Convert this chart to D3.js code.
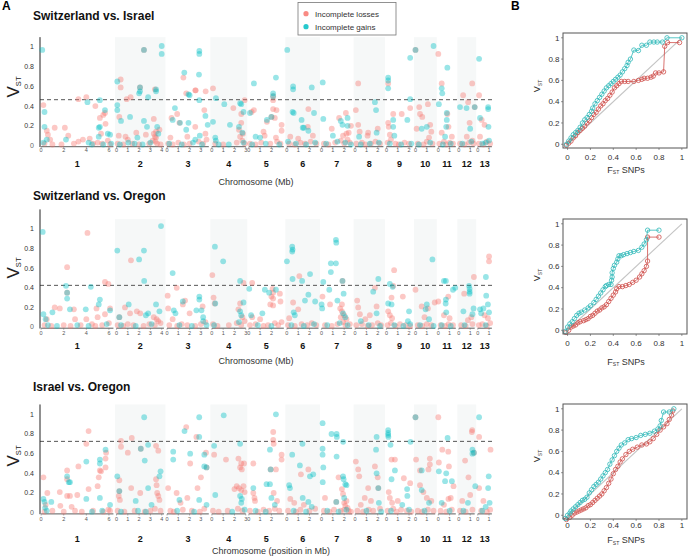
<!DOCTYPE html>
<html><head><meta charset="utf-8">
<script src="https://cdn.jsdelivr.net/npm/d3@7"></script>
<style>
body{margin:0;background:#fff;}
svg text{font-family:"Liberation Sans",Arial,Helvetica,sans-serif;}
</style>
</head><body>
<svg id="chart" width="688" height="557"></svg>
<script>
// ---------------- DATA ----------------
const chromosomes = ["1","2","3","4","5","6","7","8","9","10","11","12","13"];
const chromLengthMb = [6.4,4.2,3.7,3.0,3.1,2.8,2.7,2.5,2.3,1.75,1.55,1.4,1.25];
const chromTickMb = [[0,2,4,6],[0,1,2,3,4],[0,1,2,3],[0,1,2,3],[0,1,2],[0,1,2],[0,1,2],[0,1,2],[0,1,2],[0,1],[0,1],[0,1],[0,1]];
const panelTitles = ["Switzerland vs. Israel","Switzerland vs. Oregon","Israel vs. Oregon"];
const xAxisTitles = ["Chromosome (Mb)","Chromosome (Mb)","Chromosome (position in Mb)"];
const vstThreshold = [0.465,0.425,0.725];
const vstTicks = [0,0.2,0.4,0.6,0.8,1];
const vstTickLabels = ["0","0.2","0.4","0.6","0.8","1"];
const qqTicks = [0,0.2,0.4,0.6,0.8,1];
const qqTickLabels = ["0","0.2","0.4","0.6","0.8","1"];
const legendLabels = ["Incomplete losses","Incomplete gains"];

// [chromosome, position (Mb), V_ST]
const swIsLosses = [
[1,0.2,0.41],[1,0.5,0.15],[1,0.6,0.11],[1,0.8,0.06],[1,1.2,0.18],[1,2.1,0.18],[1,2.4,0.10],[1,3.3,0.04],[1,3.7,0.06],[1,3.3,0.47],[1,4.0,0.49],[1,4.3,0.07],[1,4.8,0.40],[1,5.5,0.31],[1,5.2,0.28],[1,5.65,0.33],[1,5.7,0.22],[1,0.3,0.02],[1,1.0,0.01],[1,1.8,0.01],[1,2.9,0.02],[1,4.6,0.02],[1,5.0,0.03],[1,5.4,0.02],[1,5.9,0.05],[1,6.1,0.01],[1,5.3,0.12],
[2,0.37,0.67],[2,0.37,0.59],[2,0.25,0.29],[2,0.2,0.10],[2,0.9,0.47],[2,1.25,0.49],[2,0.8,0.09],[2,1.0,0.06],[2,2.43,0.97],[2,2.08,0.59],[2,1.75,0.13],[2,2.6,0.11],[2,3.4,0.57],[2,3.3,0.27],[2,3.4,0.09],[2,3.5,0.08],[2,3.45,0.04],[2,3.8,0.16],[2,0.1,0.02],[2,0.6,0.01],[2,1.4,0.02],[2,2.0,0.01],[2,2.9,0.02],[2,3.2,0.05],[2,3.6,0.02],[2,3.9,0.01],[2,3.3,0.12],[2,3.5,0.14],
[3,1.45,0.69],[3,2.54,0.56],[3,3.42,0.55],[3,1.7,0.53],[3,0.4,0.28],[3,0.9,0.32],[3,1.1,0.23],[3,2.5,0.19],[3,3.3,0.36],[3,1.8,0.09],[3,2.5,0.56],[3,0.1,0.02],[3,0.5,0.01],[3,1.0,0.03],[3,1.5,0.01],[3,2.0,0.02],[3,2.8,0.04],[3,3.2,0.02],[3,3.5,0.06],[3,0.3,0.08],[3,3.4,0.12],
[4,0.1,0.58],[4,1.9,0.38],[4,2.9,0.46],[4,2.6,0.32],[4,2.6,0.23],[4,2.4,0.16],[4,2.5,0.09],[4,0.3,0.02],[4,1.0,0.01],[4,2.2,0.03],[4,2.7,0.05],[4,2.9,0.02],[4,2.75,0.12],
[5,0.25,0.34],[5,0.45,0.36],[5,1.6,0.24],[5,2.15,0.46],[5,2.15,0.37],[5,2.45,0.36],[5,2.0,0.29],[5,2.3,0.28],[5,2.9,0.21],[5,2.9,0.15],[5,1.3,0.14],[5,1.4,0.10],[5,2.15,0.50],[5,0.1,0.02],[5,0.6,0.01],[5,1.1,0.03],[5,1.9,0.02],[5,2.5,0.04],[5,2.8,0.02],[5,2.4,0.08],
[6,1.9,0.37],[6,1.85,0.19],[6,0.3,0.09],[6,0.2,0.02],[6,0.7,0.01],[6,1.2,0.03],[6,1.6,0.02],[6,2.1,0.04],[6,2.6,0.02],[6,1.0,0.07],[6,2.3,0.10],
[7,0.9,0.17],[7,1.55,0.28],[7,2.15,0.33],[7,2.4,0.13],[7,2.6,0.20],[7,0.2,0.02],[7,0.6,0.01],[7,1.2,0.03],[7,1.7,0.05],[7,2.0,0.02],[7,2.3,0.06],[7,2.5,0.03],[7,1.9,0.10],[7,2.2,0.12],
[8,0.27,0.63],[8,0.06,0.36],[8,0.27,0.21],[8,0.4,0.14],[8,2.0,0.17],[8,1.15,0.13],[8,1.1,0.10],[8,0.1,0.02],[8,0.6,0.03],[8,0.9,0.01],[8,1.4,0.02],[8,1.8,0.04],[8,2.2,0.02],
[9,0.15,0.63],[9,0.6,0.32],[9,0.15,0.23],[9,0.2,0.19],[9,1.35,0.32],[9,2.1,0.38],[9,0.1,0.03],[9,0.4,0.06],[9,0.8,0.02],[9,1.1,0.01],[9,1.6,0.03],[9,2.0,0.02],[9,0.3,0.11],
[10,0.0,0.97],[10,0.33,0.39],[10,0.4,0.32],[10,0.1,0.17],[10,1.1,0.42],[10,0.6,0.29],[10,1.3,0.21],[10,1.4,0.14],[10,0.2,0.02],[10,0.7,0.01],[10,1.0,0.04],[10,1.5,0.02],[10,1.2,0.08],
[11,0.0,0.93],[11,0.3,0.63],[11,0.8,0.32],[11,0.9,0.19],[11,0.3,0.13],[11,0.1,0.02],[11,0.5,0.04],[11,0.7,0.01],[11,1.0,0.03],[11,1.3,0.02],[11,1.2,0.09],
[12,0.38,0.51],[12,1.18,0.63],[12,0.82,0.44],[12,1.4,0.39],[12,0.95,0.23],[12,0.7,0.09],[12,0.1,0.02],[12,0.5,0.01],[12,0.9,0.03],[12,1.2,0.05],[12,1.3,0.02],
[13,0.12,0.51],[13,0.35,0.26],[13,0.6,0.21],[13,0.2,0.09],[13,0.1,0.02],[13,0.5,0.01],[13,0.8,0.04],[13,1.1,0.02]
];
const swIsGains = [
[1,0.1,0.97],[1,0.3,0.34],[1,0.3,0.19],[1,0.5,0.06],[1,2.2,0.06],[1,4.1,0.44],[1,4.2,0.03],[1,5.2,0.46],[1,5.2,0.19],[1,5.1,0.18],[1,5.65,0.36],[1,5.9,0.12],[1,6.1,0.11],[1,5.1,0.09],[1,0.2,0.03],[1,4.5,0.01],[1,5.5,0.01],[1,6.2,0.02],
[2,0.07,0.65],[2,0.07,0.41],[2,0.07,0.36],[2,0.4,0.25],[2,1.2,0.29],[2,1.05,0.03],[2,2.43,0.97],[2,2.08,0.59],[2,2.08,0.55],[2,2.0,0.53],[2,1.85,0.08],[2,2.43,0.25],[2,3.5,0.57],[2,3.5,0.55],[2,3.6,0.19],[2,2.7,0.19],[2,4.0,1.01],[2,4.0,0.93],[2,2.8,0.49],[2,3.7,0.12],[2,0.3,0.01],[2,1.6,0.02],[2,2.3,0.01],[2,3.0,0.03],
[3,1.53,0.74],[3,2.86,0.96],[3,2.86,0.93],[3,2.83,0.72],[3,1.9,0.52],[3,2.86,0.46],[3,0.7,0.38],[3,0.5,0.26],[3,1.15,0.23],[3,1.9,0.23],[3,3.6,0.21],[3,3.4,0.30],[3,2.9,0.10],[3,1.7,0.16],[3,2.5,0.06],[3,2.0,0.51],[3,0.2,0.02],[3,1.3,0.01],[3,2.3,0.03],[3,3.1,0.01],
[4,0.36,0.48],[4,0.1,0.24],[4,0.3,0.08],[4,0.35,0.05],[4,1.1,0.42],[4,2.5,0.43],[4,2.8,0.34],[4,2.4,0.19],[4,2.7,0.13],[4,1.6,0.21],[4,2.6,0.42],[4,0.6,0.01],[4,1.5,0.01],[4,2.8,0.03],
[5,0.45,0.63],[5,0.1,0.33],[5,1.6,0.26],[5,2.4,0.69],[5,2.15,0.53],[5,2.15,0.50],[5,2.0,0.29],[5,1.0,0.08],[5,0.6,0.09],[5,0.3,0.01],[5,1.5,0.02],[5,2.7,0.01],
[6,0.03,0.97],[6,0.55,0.60],[6,0.55,0.57],[6,0.5,0.34],[6,0.6,0.33],[6,2.2,0.59],[6,1.3,0.26],[6,1.4,0.18],[6,1.5,0.18],[6,2.4,0.33],[6,1.9,0.15],[6,0.1,0.04],[6,0.8,0.02],[6,1.7,0.01],[6,2.5,0.03],
[7,0.1,0.64],[7,0.15,0.27],[7,1.0,0.10],[7,1.7,0.25],[7,1.85,0.21],[7,2.3,0.28],[7,2.3,0.20],[7,0.4,0.02],[7,1.4,0.04],[7,2.1,0.03],[7,2.6,0.01],
[8,0.35,0.09],[8,1.75,0.44],[8,1.85,0.36],[8,1.9,0.13],[8,0.5,0.01],[8,1.3,0.02],[8,2.1,0.03],
[9,0.15,0.69],[9,0.15,0.66],[9,0.15,0.58],[9,0.6,0.26],[9,0.6,0.19],[9,0.7,0.10],[9,1.85,0.26],[9,2.1,0.89],[9,2.1,0.47],[9,0.3,0.02],[9,1.3,0.01],[9,2.2,0.02],
[10,0.0,0.97],[10,1.6,1.01],[10,1.0,0.19],[10,0.55,0.17],[10,0.3,0.01],[10,1.3,0.03],
[11,0.05,0.42],[11,0.8,0.79],[11,0.3,0.58],[11,0.35,0.53],[11,0.75,0.33],[11,0.75,0.26],[11,0.7,0.19],[11,0.6,0.09],[11,0.4,0.01],[11,1.1,0.02],
[12,1.4,0.39],[12,0.1,0.39],[12,0.68,0.38],[12,1.0,0.17],[12,0.3,0.02],[12,1.1,0.04],
[13,0.12,0.88],[13,0.92,0.39],[13,0.92,0.37],[13,0.2,0.28],[13,0.95,0.19],[13,0.4,0.02],[13,1.0,0.05],[13,0.7,0.03]
];
const swOrLosses = [
[1,4.1,0.96],[1,2.3,0.61],[1,2.3,0.35],[1,2.9,0.18],[1,5.65,0.46],[1,5.95,0.44],[1,4.9,0.19],[1,1.2,0.20],[1,1.65,0.19],[1,0.5,0.08],[1,4.0,0.08],[1,5.65,0.13],[1,6.1,0.19],[1,3.0,0.08],[1,5.0,0.10],[1,0.3,0.02],[1,0.9,0.01],[1,2.0,0.02],[1,2.6,0.01],[1,3.5,0.02],[1,4.5,0.03],[1,4.8,0.01],[1,5.4,0.02],[1,6.0,0.04],
[2,1.28,0.68],[2,0.75,0.20],[2,1.2,0.14],[2,1.8,0.16],[2,2.1,0.14],[2,3.55,0.08],[2,3.7,0.06],[2,0.25,0.10],[2,3.3,0.10],[2,0.1,0.02],[2,0.6,0.01],[2,1.0,0.03],[2,1.5,0.02],[2,2.4,0.01],[2,2.9,0.03],[2,3.4,0.02],[2,3.9,0.04],
[3,0.06,0.32],[3,0.86,0.40],[3,1.4,0.23],[3,1.6,0.27],[3,3.15,0.21],[3,0.1,0.19],[3,2.0,0.14],[3,0.5,0.08],[3,0.2,0.02],[3,0.9,0.01],[3,1.3,0.03],[3,1.8,0.02],[3,2.5,0.01],[3,3.0,0.03],[3,3.4,0.05],
[4,0.04,0.53],[4,0.15,0.30],[4,0.25,0.24],[4,2.8,0.45],[4,2.5,0.24],[4,2.35,0.18],[4,2.7,0.10],[4,0.1,0.03],[4,0.5,0.01],[4,1.5,0.02],[4,2.2,0.04],[4,2.6,0.02],[4,2.9,0.06],
[5,0.3,0.45],[5,2.1,0.39],[5,2.15,0.35],[5,2.0,0.31],[5,2.15,0.29],[5,1.9,0.23],[5,2.75,0.34],[5,2.8,0.26],[5,2.15,0.22],[5,0.3,0.10],[5,1.0,0.08],[5,0.1,0.02],[5,0.6,0.03],[5,1.3,0.01],[5,1.7,0.02],[5,2.3,0.04],[5,2.6,0.02],[5,2.9,0.05],
[6,1.1,0.52],[6,0.55,0.25],[6,1.0,0.18],[6,0.2,0.09],[6,0.1,0.02],[6,0.7,0.01],[6,1.3,0.03],[6,1.8,0.02],[6,2.2,0.04],[6,2.6,0.02],
[7,0.08,0.31],[7,0.75,0.23],[7,1.65,0.19],[7,1.8,0.23],[7,1.85,0.47],[7,1.8,0.16],[7,2.0,0.12],[7,1.7,0.10],[7,2.2,0.08],[7,0.3,0.02],[7,0.9,0.01],[7,1.4,0.03],[7,1.9,0.05],[7,2.1,0.02],[7,2.5,0.03],
[8,0.18,0.27],[8,0.27,0.20],[8,0.42,0.13],[8,1.75,0.40],[8,1.9,0.21],[8,1.3,0.12],[8,0.9,0.08],[8,0.1,0.02],[8,0.6,0.03],[8,1.1,0.01],[8,1.5,0.02],[8,2.0,0.04],[8,2.3,0.02],
[9,0.6,0.42],[9,0.68,0.58],[9,0.45,0.30],[9,1.45,0.31],[9,0.15,0.16],[9,0.3,0.12],[9,0.5,0.09],[9,0.1,0.02],[9,0.4,0.04],[9,0.8,0.01],[9,1.2,0.03],[9,1.7,0.02],[9,2.1,0.01],
[10,0.0,0.38],[10,0.55,0.21],[10,1.1,0.19],[10,1.7,0.25],[10,0.8,0.10],[10,0.2,0.02],[10,0.6,0.01],[10,1.0,0.03],[10,1.4,0.02],
[11,0.88,0.31],[11,0.0,0.26],[11,0.5,0.12],[11,1.0,0.09],[11,0.2,0.02],[11,0.6,0.01],[11,0.9,0.03],[11,1.3,0.02],
[12,1.33,0.51],[12,0.47,0.34],[12,1.1,0.10],[12,0.8,0.07],[12,0.2,0.02],[12,0.6,0.01],[12,1.2,0.03],
[13,1.0,0.72],[13,1.0,0.67],[13,0.6,0.12],[13,0.9,0.09],[13,0.1,0.02],[13,0.4,0.03],[13,0.8,0.01],[13,1.1,0.04]
];
const swOrGains = [
[1,0.14,0.97],[1,2.2,0.42],[1,2.3,0.35],[1,2.3,0.29],[1,2.55,0.18],[1,4.4,0.41],[1,5.2,0.28],[1,5.1,0.23],[1,1.0,0.15],[1,0.2,0.13],[1,3.95,0.18],[1,6.1,0.17],[1,0.4,0.08],[1,0.6,0.02],[1,1.4,0.01],[1,3.2,0.02],[1,4.2,0.01],[1,5.8,0.03],
[2,0.07,0.78],[2,2.0,0.69],[2,2.43,0.78],[2,2.45,0.47],[2,3.94,1.03],[2,1.08,0.23],[2,3.5,0.23],[2,2.8,0.14],[2,3.8,0.16],[2,0.25,0.10],[2,2.6,0.12],[2,0.4,0.02],[2,1.7,0.01],[2,3.1,0.03],
[3,0.5,0.55],[3,0.6,0.17],[3,0.75,0.14],[3,1.4,0.26],[3,2.86,0.31],[3,2.86,0.28],[3,2.6,0.17],[3,3.05,0.17],[3,3.2,0.10],[3,3.2,0.06],[3,1.1,0.02],[3,2.2,0.01],[3,3.5,0.02],
[4,0.27,0.82],[4,1.0,0.67],[4,0.3,0.24],[4,2.5,0.47],[4,2.8,0.25],[4,2.5,0.16],[4,2.6,0.12],[4,0.2,0.02],[4,2.4,0.05],
[5,0.04,0.39],[5,1.42,0.38],[5,1.8,0.35],[5,2.4,0.38],[5,1.2,0.14],[5,0.2,0.12],[5,0.8,0.02],[5,2.0,0.01],
[6,0.0,0.67],[6,0.47,0.82],[6,0.5,0.79],[6,0.47,0.77],[6,0.5,0.49],[6,1.35,0.47],[6,2.05,0.54],[6,1.6,0.27],[6,1.9,0.33],[6,2.5,0.26],[6,0.6,0.15],[6,0.7,0.12],[6,0.4,0.02],[6,1.5,0.01],[6,2.4,0.03],
[7,1.27,0.89],[7,1.3,0.86],[7,0.82,0.65],[7,1.27,0.65],[7,0.82,0.56],[7,0.15,0.46],[7,0.68,0.38],[7,0.0,0.23],[7,0.05,0.19],[7,1.4,0.27],[7,1.85,0.47],[7,1.95,0.34],[7,1.9,0.14],[7,2.1,0.10],[7,0.5,0.02],[7,1.6,0.04],[7,2.3,0.02],
[8,2.05,0.49],[8,1.6,0.36],[8,1.9,0.14],[8,0.5,0.06],[8,1.2,0.02],[8,2.2,0.01],
[9,0.3,0.44],[9,0.55,0.41],[9,0.15,0.24],[9,0.45,0.23],[9,2.0,0.16],[9,1.9,0.06],[9,2.1,0.03],[9,0.7,0.02],[9,1.5,0.01],
[10,1.5,0.69],[10,1.0,0.23],[10,0.9,0.18],[10,1.2,0.08],[10,0.4,0.02],[10,1.6,0.01],
[11,0.5,0.47],[11,0.67,0.47],[11,0.67,0.28],[11,0.65,0.24],[11,1.3,0.38],[11,1.5,0.40],[11,0.7,0.15],[11,0.3,0.02],[11,1.1,0.01],
[12,0.9,0.42],[12,0.95,0.39],[12,0.95,0.36],[12,0.95,0.34],[12,1.3,0.19],[12,0.4,0.16],[12,1.2,0.13],[12,0.5,0.02],
[13,0.72,0.51],[13,0.75,0.32],[13,0.9,0.23],[13,0.2,0.18],[13,0.5,0.19],[13,0.3,0.14],[13,1.0,0.15],[13,0.7,0.02]
];
const isOrLosses = [
[1,0.2,0.36],[1,0.4,0.08],[1,0.55,0.20],[1,1.65,0.21],[1,1.7,0.07],[1,2.3,0.43],[1,2.3,0.34],[1,2.3,0.17],[1,2.55,0.17],[1,2.7,0.06],[1,3.3,0.47],[1,3.2,0.18],[1,4.0,0.70],[1,4.2,0.83],[1,4.2,0.24],[1,5.0,0.27],[1,5.1,0.36],[1,5.2,0.43],[1,5.3,0.42],[1,5.75,0.61],[1,5.7,0.55],[1,5.7,0.46],[1,5.95,0.03],[1,0.3,0.01],[1,1.0,0.02],[1,2.0,0.01],[1,3.0,0.02],[1,3.6,0.01],[1,4.6,0.02],[1,5.5,0.01],[1,6.1,0.02],
[2,0.4,0.73],[2,0.4,0.67],[2,0.25,0.33],[2,0.2,0.17],[2,0.3,0.13],[2,1.35,0.76],[2,1.0,0.61],[2,2.15,0.65],[2,3.5,0.68],[2,3.7,0.63],[2,3.5,0.34],[2,3.55,0.28],[2,3.6,0.20],[2,3.7,0.17],[2,3.8,0.13],[2,2.1,0.20],[2,1.3,0.25],[2,0.25,0.22],[2,0.1,0.02],[2,0.7,0.01],[2,1.6,0.02],[2,2.5,0.01],[2,3.0,0.02],[2,3.4,0.04],[2,3.9,0.02],
[3,1.7,0.87],[3,2.6,0.77],[3,3.45,0.61],[3,2.05,0.50],[3,3.5,0.46],[3,3.0,0.36],[3,0.1,0.25],[3,0.85,0.20],[3,1.8,0.15],[3,2.7,0.25],[3,1.2,0.10],[3,0.3,0.02],[3,0.6,0.01],[3,1.4,0.03],[3,2.2,0.02],[3,2.9,0.01],[3,3.3,0.04],
[4,0.2,0.59],[4,1.25,0.54],[4,2.35,0.55],[4,2.5,0.46],[4,2.85,0.50],[4,2.2,0.27],[4,2.4,0.25],[4,2.6,0.23],[4,2.8,0.27],[4,2.9,0.21],[4,2.0,0.24],[4,2.6,0.50],[4,2.65,0.44],[4,0.1,0.02],[4,0.6,0.01],[4,1.4,0.02],[4,2.3,0.04],[4,2.7,0.02],
[5,2.16,0.82],[5,2.16,0.74],[5,2.2,0.70],[5,2.9,0.59],[5,2.9,0.54],[5,0.4,0.50],[5,1.93,0.44],[5,2.4,0.44],[5,0.4,0.20],[5,0.5,0.15],[5,0.55,0.12],[5,2.2,0.20],[5,2.5,0.12],[5,0.1,0.02],[5,0.8,0.01],[5,1.3,0.03],[5,1.8,0.02],[5,2.3,0.04],[5,2.7,0.02],
[6,1.24,0.39],[6,1.9,0.44],[6,0.65,0.10],[6,0.3,0.14],[6,1.5,0.08],[6,0.1,0.02],[6,0.8,0.01],[6,1.2,0.03],[6,2.0,0.02],[6,2.5,0.04],
[7,0.3,0.15],[7,1.5,0.36],[7,1.8,0.24],[7,1.9,0.19],[7,1.3,0.11],[7,2.0,0.10],[7,2.1,0.07],[7,2.2,0.12],[7,2.3,0.05],[7,0.2,0.02],[7,0.7,0.01],[7,1.1,0.03],[7,1.7,0.02],[7,2.0,0.03],[7,2.4,0.02],[7,2.6,0.01],
[8,0.06,0.52],[8,0.27,0.44],[8,0.36,0.37],[8,1.15,0.25],[8,1.75,0.47],[8,2.0,0.36],[8,2.05,0.25],[8,0.85,0.15],[8,1.4,0.12],[8,0.5,0.08],[8,0.2,0.02],[8,0.7,0.01],[8,1.2,0.03],[8,1.6,0.02],[8,2.2,0.04],
[9,0.45,0.54],[9,0.75,0.54],[9,1.54,0.35],[9,0.2,0.21],[9,0.3,0.15],[9,0.5,0.10],[9,1.0,0.12],[9,2.1,0.30],[9,0.1,0.02],[9,0.6,0.04],[9,0.9,0.01],[9,1.3,0.03],[9,1.8,0.02],[9,2.2,0.01],
[10,0.0,0.97],[10,0.4,0.43],[10,0.05,0.54],[10,1.27,0.55],[10,1.27,0.49],[10,1.15,0.44],[10,0.4,0.28],[10,0.7,0.21],[10,1.0,0.15],[10,1.4,0.12],[10,0.2,0.02],[10,0.6,0.01],[10,1.1,0.03],[10,1.6,0.02],
[11,0.0,0.97],[11,0.35,0.64],[11,0.88,0.62],[11,0.05,0.51],[11,0.94,0.47],[11,1.35,0.27],[11,1.1,0.15],[11,0.9,0.14],[11,0.5,0.08],[11,0.2,0.02],[11,0.7,0.01],[11,1.2,0.03],
[12,1.18,0.84],[12,1.15,0.82],[12,1.33,0.61],[12,0.55,0.53],[12,0.85,0.36],[12,1.0,0.18],[12,0.3,0.12],[12,0.1,0.02],[12,0.6,0.01],[12,1.2,0.03],
[13,0.12,0.77],[13,1.13,0.64],[13,0.12,0.25],[13,0.5,0.12],[13,0.3,0.02],[13,0.8,0.01],[13,1.1,0.03]
];
const isOrGains = [
[1,0.2,0.14],[1,0.3,0.11],[1,0.35,0.05],[1,0.9,0.11],[1,2.3,0.37],[1,2.55,0.31],[1,2.45,0.31],[1,4.0,0.52],[1,4.0,0.14],[1,5.2,0.50],[1,5.2,0.54],[1,5.7,0.64],[1,5.2,0.15],[1,6.1,0.08],[1,0.5,0.02],[1,4.5,0.01],[1,5.4,0.02],
[2,0.07,0.37],[2,0.25,0.22],[2,2.45,0.97],[2,2.15,0.65],[2,2.5,0.53],[2,2.8,0.69],[2,3.9,0.42],[2,3.8,0.37],[2,2.8,0.25],[2,1.7,0.12],[2,3.1,0.08],[2,0.4,0.01],[2,1.9,0.02],[2,2.6,0.01],
[3,2.85,0.97],[3,1.55,0.83],[3,2.85,0.77],[3,3.3,0.59],[3,0.55,0.62],[3,0.55,0.54],[3,2.05,0.60],[3,3.3,0.47],[3,3.5,0.46],[3,1.1,0.13],[3,2.85,0.13],[3,3.5,0.08],[3,0.9,0.02],[3,2.4,0.01],
[4,1.05,0.99],[4,0.2,0.68],[4,2.5,0.70],[4,2.5,0.17],[4,2.65,0.14],[4,2.6,0.10],[4,0.3,0.18],[4,1.8,0.01],[4,2.9,0.03],
[5,2.4,1.0],[5,1.87,0.64],[5,1.57,0.29],[5,1.87,0.29],[5,1.93,0.44],[5,0.4,0.25],[5,2.0,0.15],[5,2.3,0.08],[5,0.6,0.02],[5,1.5,0.01],
[6,0.47,0.59],[6,1.38,0.70],[6,1.15,0.48],[6,2.04,0.37],[6,2.33,0.39],[6,0.2,0.28],[6,0.27,0.25],[6,1.4,0.15],[6,1.9,0.11],[6,2.2,0.06],[6,0.6,0.02],[6,1.7,0.01],
[7,0.09,0.91],[7,0.88,0.80],[7,1.33,0.80],[7,1.35,0.77],[7,1.91,0.72],[7,0.09,0.65],[7,0.09,0.59],[7,1.33,0.57],[7,0.15,0.46],[7,0.1,0.31],[7,1.9,0.37],[7,1.95,0.34],[7,2.1,0.29],[7,2.2,0.28],[7,1.3,0.11],[7,2.0,0.15],[7,0.5,0.02],[7,1.5,0.01],[7,2.2,0.03],
[8,1.9,0.77],[8,1.85,0.64],[8,1.9,0.40],[8,2.05,0.25],[8,2.1,0.10],[8,1.0,0.02],[8,2.3,0.01],
[9,0.15,0.84],[9,0.15,0.81],[9,0.15,0.79],[9,0.17,0.77],[9,0.36,0.69],[9,0.75,0.43],[9,0.45,0.34],[9,2.13,0.72],[9,1.83,0.24],[9,1.85,0.17],[9,1.4,0.08],[9,0.4,0.02],[9,2.0,0.03],
[10,0.0,0.97],[10,0.55,0.43],[10,0.55,0.23],[10,1.2,0.10],[10,0.8,0.02],
[11,0.82,0.76],[11,0.05,0.42],[11,0.7,0.40],[11,0.6,0.32],[11,1.2,0.32],[11,0.3,0.10],[11,1.0,0.02],
[12,1.2,0.64],[12,1.2,0.60],[12,1.33,0.61],[12,1.45,0.27],[12,0.8,0.10],[12,0.4,0.02],
[13,0.12,0.97],[13,0.97,0.37],[13,0.92,0.25],[13,1.05,0.10],[13,0.7,0.06],[13,0.4,0.02]
];

// Panel B: [F_ST SNPs quantile, V_ST quantile]
const qqSwIsGains = [[-0.01,0.0],[0.01,0.03],[0.03,0.06],[0.05,0.09],[0.07,0.11],[0.09,0.13],[0.11,0.16],[0.13,0.20],[0.15,0.23],[0.17,0.25],[0.19,0.28],[0.21,0.31],[0.22,0.34],[0.24,0.38],[0.26,0.41],[0.28,0.44],[0.30,0.47],[0.32,0.50],[0.34,0.53],[0.36,0.55],[0.38,0.57],[0.40,0.59],[0.42,0.61],[0.44,0.63],[0.46,0.65],[0.48,0.68],[0.50,0.71],[0.52,0.74],[0.53,0.77],[0.55,0.80],[0.58,0.885],[0.62,0.88],[0.65,0.93],[0.69,0.93],[0.72,0.96],[0.755,0.96],[0.785,0.96],[0.83,0.96],[0.87,1.0],[1.0,1.0]];
const qqSwIsLosses = [[-0.01,-0.01],[0.01,0.01],[0.03,0.03],[0.05,0.06],[0.07,0.08],[0.09,0.11],[0.11,0.13],[0.13,0.15],[0.15,0.17],[0.17,0.20],[0.19,0.22],[0.21,0.25],[0.23,0.28],[0.25,0.30],[0.27,0.33],[0.29,0.36],[0.31,0.38],[0.33,0.41],[0.35,0.43],[0.37,0.46],[0.39,0.49],[0.41,0.53],[0.43,0.55],[0.45,0.57],[0.47,0.59],[0.50,0.59],[0.53,0.59],[0.58,0.59],[0.62,0.60],[0.65,0.61],[0.67,0.62],[0.70,0.62],[0.73,0.63],[0.75,0.64],[0.77,0.67],[0.80,0.67],[0.84,0.68],[0.85,0.92],[0.875,0.955],[0.98,0.955]];
const qqSwOrGains = [[-0.02,-0.01],[0.0,0.03],[0.02,0.06],[0.04,0.08],[0.06,0.11],[0.08,0.14],[0.10,0.16],[0.12,0.17],[0.15,0.19],[0.18,0.21],[0.20,0.23],[0.23,0.26],[0.25,0.29],[0.27,0.32],[0.29,0.35],[0.31,0.38],[0.33,0.41],[0.34,0.42],[0.36,0.43],[0.38,0.43],[0.385,0.47],[0.39,0.50],[0.39,0.54],[0.40,0.58],[0.41,0.61],[0.43,0.64],[0.44,0.67],[0.45,0.70],[0.47,0.70],[0.49,0.71],[0.52,0.72],[0.55,0.73],[0.58,0.74],[0.62,0.75],[0.65,0.78],[0.67,0.81],[0.69,0.85],[0.70,0.94],[0.80,0.94]];
const qqSwOrLosses = [[-0.015,-0.02],[0.01,0.0],[0.03,0.03],[0.05,0.04],[0.07,0.05],[0.09,0.07],[0.11,0.08],[0.14,0.09],[0.16,0.10],[0.18,0.11],[0.20,0.13],[0.22,0.14],[0.24,0.16],[0.26,0.18],[0.28,0.19],[0.30,0.21],[0.32,0.22],[0.34,0.24],[0.36,0.27],[0.38,0.30],[0.40,0.33],[0.42,0.36],[0.43,0.39],[0.45,0.41],[0.48,0.41],[0.51,0.42],[0.54,0.43],[0.57,0.45],[0.60,0.47],[0.63,0.50],[0.65,0.53],[0.67,0.56],[0.69,0.60],[0.70,0.65],[0.70,0.875],[0.80,0.875]];
const qqIsOrGains = [[-0.02,-0.03],[0.0,0.0],[0.02,0.02],[0.03,0.04],[0.05,0.06],[0.07,0.08],[0.09,0.10],[0.11,0.12],[0.13,0.14],[0.15,0.15],[0.17,0.17],[0.19,0.21],[0.21,0.24],[0.23,0.27],[0.25,0.29],[0.27,0.31],[0.29,0.34],[0.31,0.37],[0.33,0.40],[0.35,0.43],[0.37,0.48],[0.39,0.52],[0.41,0.56],[0.43,0.60],[0.45,0.63],[0.47,0.66],[0.50,0.68],[0.53,0.71],[0.56,0.72],[0.60,0.73],[0.64,0.75],[0.68,0.76],[0.72,0.77],[0.76,0.79],[0.79,0.81],[0.81,0.84],[0.82,0.89],[0.84,0.97],[0.89,0.97],[0.93,1.0]];
const qqIsOrLosses = [[-0.01,-0.04],[0.02,-0.02],[0.04,0.0],[0.06,0.02],[0.08,0.03],[0.10,0.04],[0.12,0.05],[0.14,0.06],[0.16,0.07],[0.18,0.09],[0.20,0.10],[0.22,0.12],[0.24,0.14],[0.26,0.16],[0.28,0.18],[0.30,0.20],[0.32,0.23],[0.34,0.26],[0.36,0.30],[0.38,0.34],[0.40,0.39],[0.42,0.43],[0.44,0.46],[0.46,0.50],[0.48,0.53],[0.51,0.57],[0.54,0.60],[0.57,0.62],[0.61,0.64],[0.65,0.66],[0.69,0.67],[0.72,0.69],[0.75,0.72],[0.78,0.76],[0.81,0.80],[0.84,0.83],[0.87,0.86],[0.89,0.90],[0.91,0.94],[0.92,0.98]];

// ---------------- DRAWING ----------------
const svg = d3.select("#chart");
const colLoss = "#F8766D", colGain = "#00BFC4";
const qqLossCol = "#cf4f4b", qqGainCol = "#30b9b9";

const gapMb = 0.27, padMb = 0.1;
const chromStart = [];
let acc = 0;
chromLengthMb.forEach(L => { chromStart.push(acc); acc += L + gapMb; });
const genomeEnd = acc - gapMb;
const x = d3.scaleLinear().domain([-padMb, genomeEnd + padMb]).range([40, 493]);

const panelsA = [
  {losses: swIsLosses, gains: swIsGains, y0: 145.5, y1: 47, topV: 1.1, titleY: 19.5, tickY: 152, chromY: 167, xTitleY: 185, xTitleX: 256, labelY: 87},
  {losses: swOrLosses, gains: swOrGains, y0: 327, y1: 229, topV: 1.2, titleY: 200, tickY: 334.5, chromY: 349, xTitleY: 364, xTitleX: 256, labelY: 268},
  {losses: isOrLosses, gains: isOrGains, y0: 512.7, y1: 414.3, topV: 1.1, titleY: 390.5, tickY: 520.5, chromY: 542, xTitleY: 554, xTitleX: 271, labelY: 456}
];

panelsA.forEach((p, pi) => {
  const y = d3.scaleLinear().domain([0, 1]).range([p.y0, p.y1]);
  const g = svg.append("g");
  chromosomes.forEach((c, i) => {
    if (i % 2 === 1) {
      g.append("rect")
        .attr("x", x(chromStart[i] - gapMb / 2))
        .attr("width", x(chromStart[i] + chromLengthMb[i] + gapMb / 2) - x(chromStart[i] - gapMb / 2))
        .attr("y", y(1.1)).attr("height", y(0) + 1 - y(1.1))
        .attr("fill", "#f6f8f8");
    }
  });
  g.append("line").attr("x1", 40).attr("x2", 493)
    .attr("y1", y(vstThreshold[pi])).attr("y2", y(vstThreshold[pi]))
    .attr("stroke", "#555").attr("stroke-width", 1).attr("stroke-dasharray", "4,3");
  g.append("line").attr("x1", 40).attr("x2", 40).attr("y1", y(p.topV)).attr("y2", y(0) + 1.5)
    .attr("stroke", "#222").attr("stroke-width", 1);
  vstTicks.forEach((t, k) => {
    g.append("text").attr("x", 34).attr("y", y(t) + 2.4).attr("text-anchor", "end")
      .attr("font-size", 7).attr("fill", k === 0 ? "#666" : "#333").text(vstTickLabels[k]);
  });
  chromosomes.forEach((c, i) => {
    const s = chromStart[i], L = chromLengthMb[i];
    g.append("line").attr("x1", x(s)).attr("x2", x(s + L)).attr("y1", y(0) + 1.2).attr("y2", y(0) + 1.2)
      .attr("stroke", "#333").attr("stroke-width", 0.8);
    chromTickMb[i].forEach(t => {
      g.append("line").attr("x1", x(s + t)).attr("x2", x(s + t)).attr("y1", y(0) + 1.2).attr("y2", y(0) + 2.8)
        .attr("stroke", "#666").attr("stroke-width", 0.5);
      g.append("text").attr("x", x(s + t)).attr("y", p.tickY).attr("text-anchor", "middle")
        .attr("font-size", 5.5).attr("fill", "#555").text(t);
    });
    g.append("text").attr("x", x(s + L / 2)).attr("y", p.chromY).attr("text-anchor", "middle")
      .attr("font-size", 9).attr("font-weight", "bold").attr("fill", "#111").text(c);
  });
  const drawPts = (arr, col) => {
    g.append("g").selectAll("circle").data(arr).join("circle")
      .attr("cx", d => x(chromStart[d[0] - 1] + d[1]))
      .attr("cy", d => y(d[2]))
      .attr("r", 2.9).attr("fill", col).attr("fill-opacity", 0.4);
  };
  drawPts(p.losses, colLoss);
  drawPts(p.gains, colGain);
  g.append("text").attr("x", 33).attr("y", p.titleY).attr("font-size", 12).attr("font-weight", "bold")
    .attr("fill", "#111").text(panelTitles[pi]);
  const yl = g.append("text").attr("transform", `translate(19,${p.labelY}) rotate(-90)`)
    .attr("text-anchor", "middle").attr("fill", "#222");
  yl.append("tspan").attr("font-size", 17).text("V");
  yl.append("tspan").attr("font-size", 7.5).attr("dy", 2).text("ST");
  g.append("text").attr("x", p.xTitleX).attr("y", p.xTitleY).attr("text-anchor", "middle")
    .attr("font-size", 9).attr("fill", "#333").text(xAxisTitles[pi]);
});

svg.append("text").attr("x", 2).attr("y", 10).attr("font-size", 12).attr("font-weight", "bold").text("A");
svg.append("text").attr("x", 511).attr("y", 10).attr("font-size", 12).attr("font-weight", "bold").text("B");

const lg = svg.append("g");
lg.append("rect").attr("x", 298).attr("y", 2.5).attr("width", 98).attr("height", 32.5)
  .attr("fill", "#fff").attr("stroke", "#777").attr("stroke-width", 0.8);
[colLoss, colGain].forEach((c, i) => {
  lg.append("circle").attr("cx", 306).attr("cy", 13.7 + i * 13).attr("r", 2.6).attr("fill", c).attr("fill-opacity", 0.85);
  lg.append("text").attr("x", 315).attr("y", 16.6 + i * 13).attr("font-size", 8).attr("fill", "#333").text(legendLabels[i]);
});

const panelsB = [
  {gains: qqSwIsGains, losses: qqSwIsLosses, top: 33, xlabY: 159.5, fY: 172.5, vY: 86},
  {gains: qqSwOrGains, losses: qqSwOrLosses, top: 219, xlabY: 346, fY: 364.5, vY: 275},
  {gains: qqIsOrGains, losses: qqIsOrLosses, top: 404, xlabY: 528, fY: 543, vY: 456}
];
panelsB.forEach(p => {
  const h = 115;
  const bx = d3.scaleLinear().domain([-0.04, 1.045]).range([563, 687]);
  const by = d3.scaleLinear().domain([-0.035, 1.045]).range([p.top + h, p.top]);
  const g = svg.append("g");
  g.append("line").attr("x1", bx(0)).attr("y1", by(0)).attr("x2", bx(1)).attr("y2", by(1))
    .attr("stroke", "#c4c4c4").attr("stroke-width", 1.1);
  const line = d3.line().x(d => bx(d[0])).y(d => by(d[1]));
  [[p.losses, qqLossCol], [p.gains, qqGainCol]].forEach(([arr, col]) => {
    g.append("path").datum(arr).attr("d", line).attr("fill", "none").attr("stroke", col).attr("stroke-width", 0.8);
    g.append("g").selectAll("circle").data(arr).join("circle")
      .attr("cx", d => bx(d[0])).attr("cy", d => by(d[1])).attr("r", 2.2)
      .attr("fill", "none").attr("stroke", col).attr("stroke-width", 0.8);
  });
  g.append("rect").attr("x", 563).attr("y", p.top).attr("width", 124).attr("height", h)
    .attr("fill", "none").attr("stroke", "#555").attr("stroke-width", 1);
  qqTicks.forEach((t, k) => {
    g.append("line").attr("x1", 563).attr("x2", 561).attr("y1", by(t)).attr("y2", by(t)).attr("stroke", "#555").attr("stroke-width", 0.6);
    g.append("text").attr("x", 559.5).attr("y", by(t) + 2.8).attr("text-anchor", "end").attr("font-size", 8).attr("fill", "#333").text(qqTickLabels[k]);
    g.append("line").attr("x1", bx(t)).attr("x2", bx(t)).attr("y1", p.top + h).attr("y2", p.top + h + 2).attr("stroke", "#555").attr("stroke-width", 0.6);
    g.append("text").attr("x", bx(t)).attr("y", p.xlabY).attr("text-anchor", "middle").attr("font-size", 8).attr("fill", "#333").text(qqTickLabels[k]);
  });
  const fl = g.append("text").attr("x", 626).attr("y", p.fY).attr("text-anchor", "middle").attr("fill", "#333");
  fl.append("tspan").attr("font-size", 9).text("F");
  fl.append("tspan").attr("font-size", 5).attr("dy", 1.5).text("ST");
  fl.append("tspan").attr("font-size", 9).attr("dy", -1.5).text(" SNPs");
  const vl = g.append("text").attr("transform", `translate(540,${p.vY}) rotate(-90)`).attr("text-anchor", "middle").attr("fill", "#333");
  vl.append("tspan").attr("font-size", 9).text("V");
  vl.append("tspan").attr("font-size", 5).attr("dy", 1.5).text("ST");
});
</script>
</body></html>
